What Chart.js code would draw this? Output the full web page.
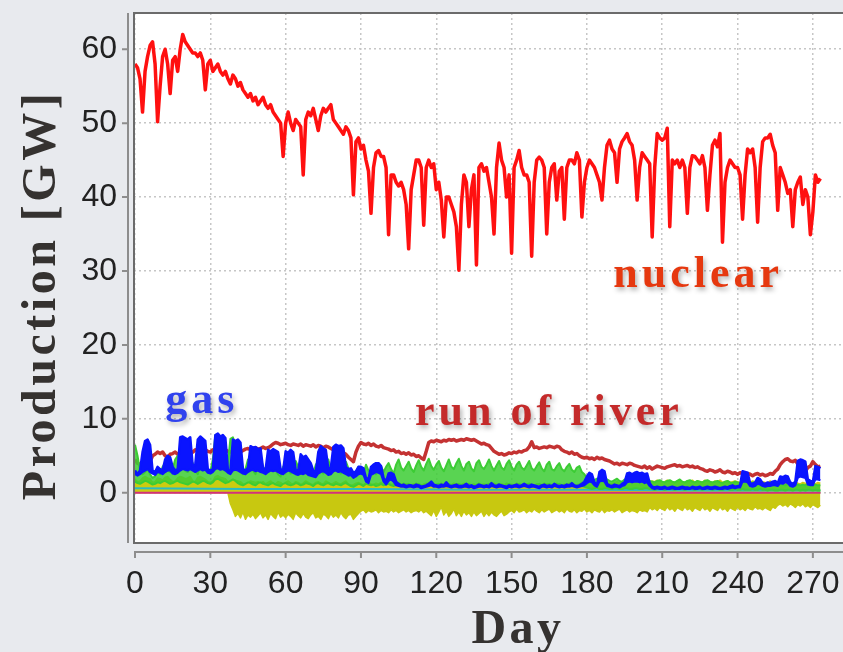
<!DOCTYPE html>
<html>
<head>
<meta charset="utf-8">
<title>Production [GW]</title>
<script src="https://cdn.jsdelivr.net/npm/chart.js@4/dist/chart.umd.min.js"></script>
<style>
  body { margin: 0; background: #e8eaee; }
  canvas { display: block; }
</style>
</head>
<body>
<canvas id="prodChart" width="843" height="652"></canvas>
<script>
// daily production per source [GW], day 0 .. 273
const nuclear = [
  58, 57.5, 56, 51.5, 57, 59, 60.5, 61, 58, 50.2,
  55, 59, 60, 58, 54, 58.5, 59, 57, 60, 62,
  61, 60.5, 60, 59.5, 59.5, 59, 59.5, 58.5, 54.5, 58,
  58.5, 57, 57.5, 58, 57, 56.5, 57, 56, 55.3, 56.5,
  56, 55, 55.5, 54.5, 54, 53.5, 54, 53, 53.5, 52.5,
  53, 53.5, 52.5, 52, 52.5, 51.5, 51, 50.5, 50, 45.5,
  50, 51.5, 50, 49, 50.5, 50, 49.5, 43, 50.5, 51.5,
  51, 52, 50.5, 49, 51, 52, 51.5, 52, 52.5, 50.5,
  50, 49.5, 49, 48.5, 49.5, 49, 48, 40.3, 47.5, 48,
  46.5, 47, 45, 43.5, 37.8, 44, 46, 46.3, 45.5, 45.5,
  44, 34.9, 43, 43, 42, 41.5, 42, 41, 39, 33,
  41, 43, 45, 45, 44, 36.2, 44, 45, 44, 44.5,
  41, 42, 39.6, 34.6, 40, 40, 39, 38, 36, 30.1,
  39, 43, 42, 36, 41, 43, 30.8, 44, 44.5, 43.5,
  44, 42, 40, 35, 44, 47.3, 45, 44, 40, 43,
  32.4, 44, 45, 46.3, 44, 43, 43, 42, 32, 42,
  45, 45.4, 45, 44, 35, 42, 44, 44.5, 39.6, 43.5,
  44, 37, 44, 45, 45, 44.5, 46, 45, 37.3, 42,
  44, 45, 44.5, 44, 43, 42, 39.6, 44, 47, 47.7,
  46.5, 46, 42, 46.5, 47.5, 48, 48.6, 47.5, 47, 45,
  39.6, 44, 46, 45.5, 45, 44.5, 34.6, 44, 48.6, 48,
  47.7, 48, 49.3, 36, 45, 44.5, 45, 44, 45, 44,
  37.8, 44, 45.6, 45.5, 45, 44.5, 45.6, 44, 38.2, 43,
  47, 47.7, 46.8, 48.6, 33.9, 42, 44, 45, 44.5, 44,
  44, 43, 37, 43, 46.5, 46, 46.5, 44, 36.6, 44,
  47.5, 48, 48, 48.5, 47, 46, 38.2, 44, 43, 42,
  40.5, 41, 36, 41, 42, 42.7, 39, 41, 40, 34.9,
  38, 43, 42, 42.5
];

const runOfRiver = [
  4.5, 4, 3.8, 4.2, 3.5, 3.8, 4.2, 5, 5.2, 5.5,
  5.3, 5.5, 5, 4.8, 5.2, 5.3, 5.5, 5.2, 5, 5.3,
  5.5, 5.6, 5.4, 5.5, 5.8, 5.6, 5.5, 5.7, 5.8, 5.6,
  5.5, 5.8, 5.6, 5.5, 5.7, 5.9, 5.8, 5.6, 5.5, 5.7,
  5.8, 5.6, 5.5, 5.7, 5.9, 6, 5.8, 6, 6.1, 5.9,
  6, 6.2, 6, 6.1, 6.3, 6.6, 6.8, 6.7, 6.5, 6.6,
  6.7, 6.5, 6.4, 6.6, 6.5, 6.4, 6.6, 6.3, 6.5, 6.4,
  6.3, 6.5, 6.2, 6.4, 6.3, 6.1, 6.3, 6.2, 6, 5.8,
  5.6, 5.3, 5, 5.4, 5.2, 4.8, 4.5, 4.2, 5.5, 6.3,
  6.8, 6.6, 6.5, 6.7, 6.4, 6.6, 6.3, 6.2, 6.4, 6.1,
  6, 5.9, 5.7, 5.8, 5.5, 5.6, 5.3, 5.4, 5.2, 5.4,
  5.1, 5.2, 4.9, 5, 4.7, 4.5, 5.6, 6.8, 7, 6.9,
  7.1, 7, 6.9, 7.1, 7, 7.2, 7.1, 7.2, 7, 7.1,
  7.2, 7.1, 7.3, 7.2, 7.1, 7.2, 7, 6.8, 6.6, 6.7,
  6.5, 6.4, 6, 5.6, 5.4, 5.2, 5.3, 5.1, 5.2, 5.4,
  5.3, 5.5, 5.4, 5.6, 5.5, 5.7, 5.8, 6.2, 6.9, 6.1,
  6.2, 6, 6.1, 6.2, 6.1, 6.3, 6.2, 6.1, 6.3, 6.2,
  5.8, 5.6, 5.5, 5.3, 5.5, 5.2, 5.3, 5, 4.8, 4.7,
  4.8, 4.6, 4.7, 4.5, 4.8, 4.6, 4.7, 4.5, 4.4, 4.3,
  4.1, 3.9, 4, 3.8, 4, 3.9, 3.8, 4, 3.9, 3.7,
  3.6, 3.5, 3.4, 3.6, 3.3, 3.5, 3.2, 3.4, 3.6, 3.5,
  3.4, 3.3, 3.5, 3.6, 3.7, 3.8, 3.6, 3.7, 3.5, 3.6,
  3.7, 3.5, 3.6, 3.4, 3.5, 3.3, 3.2, 3, 2.9, 3.1,
  3, 2.8, 2.9, 3.1, 2.8, 2.7, 2.9, 2.8, 2.6, 2.7,
  2.5, 2.7, 2.6, 2.4, 2.6, 2.5, 2.3, 2.5, 2.6, 2.4,
  2.5, 2.3, 2.4, 2.6, 2.5, 2.9, 3.2, 3.8, 4.2, 4.5,
  4.6, 4.3, 4.2, 4.4, 3.9, 3.5, 3.2, 2.9, 3.4, 3.6,
  4.2, 3.8, 3.5, 3.6
];

// gas: daily high and low of the hourly curve
const gasHigh = [
  3, 2.5, 3, 5.5, 7, 7.2, 6.5, 3, 2.8, 3.5,
  3.2, 3, 4.5, 5, 4.8, 3.5, 3, 3.2, 7.5, 7.6,
  7.4, 7.2, 7.5, 3.6, 3.8, 7.2, 7.6, 7.3, 7, 3.2,
  3, 3.2, 7.8, 8, 7.6, 7.8, 7.4, 3.1, 2.9, 7.2,
  7, 7.2, 6.8, 3.2, 3, 3.4, 6.3, 6.1, 6.2, 5.9,
  6, 3.3, 3.1, 5.8, 5.6, 5.9, 5.7, 5.5, 3.2, 3,
  5.6, 5.4, 5.8, 5.5, 3.1, 2.9, 5.2, 4.8, 5, 4.5,
  4, 3, 2.8, 5.5, 6.3, 6, 5.8, 3.2, 3.4, 6.2,
  6.5, 6.3, 6.4, 6, 3.5, 3.2, 3.3, 2.7, 2.9, 3.5,
  3.5, 3.3, 2, 1.8, 3.5, 3.8, 4, 4, 3.6, 2,
  1.5, 2.6, 2.7, 2.5, 1.5, 1.2, 1, 1.1, 0.9, 1,
  1, 0.9, 1.1, 1, 0.8, 0.9, 1, 1.2, 1.5, 1.1,
  1, 0.9, 1.1, 1, 1.4, 1, 0.9, 1, 1.1, 0.9,
  0.9, 1, 1.2, 0.9, 1, 0.8, 0.9, 1.1, 1, 0.9,
  1, 0.9, 1.3, 1, 0.9, 1.1, 1, 0.9, 0.8, 1,
  0.9, 1, 1.1, 0.9, 1, 1.2, 1, 0.9, 1.1, 1,
  0.9, 0.8, 1, 1.1, 0.9, 1, 0.9, 1.2, 1, 0.9,
  1, 0.9, 1.1, 1, 1.3, 1, 0.9, 1, 1.2, 1.5,
  2.2, 2.7, 2.5, 1.4, 1, 2.8, 3.1, 2.9, 1.2, 1,
  0.9, 1.1, 1, 0.9, 1.2, 1.4, 2.6, 2.7, 2.5, 2.7,
  2.8, 2.6, 2.7, 2.5, 2.6, 1.3, 0.8, 0.7, 0.8, 0.7,
  0.7, 0.8, 0.6, 0.7, 0.8, 0.7, 0.6, 0.7, 0.8, 0.7,
  0.7, 0.6, 0.8, 0.7, 0.7, 0.8, 0.6, 0.7, 0.8, 0.7,
  0.7, 0.8, 0.7, 0.6, 0.7, 0.8, 0.7, 0.9, 1, 0.8,
  0.9, 1, 2.9, 2.8, 2.7, 1.3, 1.2, 1.4, 2, 1.8,
  1.3, 1.2, 1.4, 1.3, 1.5, 1.6, 1.3, 2.2, 2.1, 2.3,
  2.2, 1.4, 1.2, 1.5, 4.3, 4.5, 4.4, 4.2, 1.8, 1.6,
  1.5, 3.6, 3.5, 3.3
];

const gasLow = [
  2.5, 2.3, 2.5, 2.8, 3, 3.2, 2.8, 2.6, 2.4, 2.8,
  2.7, 2.5, 2.8, 3, 3, 2.6, 2.5, 2.7, 3, 3.2,
  3.1, 3, 3.2, 3, 2.8, 3, 3.2, 3, 3.1, 2.7,
  2.6, 2.8, 3.2, 3.3, 3.1, 3.2, 3, 2.7, 2.5, 3,
  3.1, 3, 2.8, 2.6, 2.5, 2.8, 3, 3.1, 2.9, 3,
  2.8, 2.7, 2.5, 2.8, 3, 2.9, 3, 2.8, 2.6, 2.5,
  2.8, 3, 2.9, 2.7, 2.5, 2.4, 2.6, 2.5, 2.7, 2.4,
  2.3, 2.2, 2.1, 2.6, 2.8, 2.9, 2.7, 2.4, 2.5, 2.9,
  3, 2.8, 2.9, 2.7, 2.5, 2.3, 2.4, 2, 2.2, 2.5,
  2.6, 2.4, 1.5, 1.3, 2.4, 2.6, 2.8, 2.7, 2.5, 1.5,
  1.1, 1.6, 1.8, 1.5, 1, 0.9, 0.8, 0.8, 0.7, 0.8,
  0.8, 0.7, 0.8, 0.8, 0.6, 0.7, 0.8, 0.9, 1, 0.8,
  0.8, 0.7, 0.8, 0.8, 0.9, 0.8, 0.7, 0.8, 0.8, 0.7,
  0.7, 0.8, 0.8, 0.7, 0.8, 0.6, 0.7, 0.8, 0.8, 0.7,
  0.8, 0.7, 0.9, 0.8, 0.7, 0.8, 0.8, 0.7, 0.6, 0.8,
  0.7, 0.8, 0.8, 0.7, 0.8, 0.9, 0.8, 0.7, 0.8, 0.8,
  0.7, 0.6, 0.8, 0.8, 0.7, 0.8, 0.7, 0.9, 0.8, 0.7,
  0.8, 0.7, 0.8, 0.8, 0.9, 0.8, 0.7, 0.8, 0.9, 1,
  1.3, 1.5, 1.4, 1, 0.8, 1.5, 1.6, 1.5, 0.9, 0.8,
  0.7, 0.8, 0.8, 0.7, 0.9, 1, 1.4, 1.5, 1.4, 1.5,
  1.5, 1.4, 1.5, 1.3, 1.4, 0.9, 0.6, 0.5, 0.6, 0.5,
  0.5, 0.6, 0.5, 0.5, 0.6, 0.5, 0.5, 0.5, 0.6, 0.5,
  0.5, 0.5, 0.6, 0.5, 0.5, 0.6, 0.5, 0.5, 0.6, 0.5,
  0.5, 0.6, 0.5, 0.5, 0.5, 0.6, 0.5, 0.6, 0.7, 0.6,
  0.7, 0.7, 1.5, 1.5, 1.4, 0.9, 0.8, 0.9, 1.2, 1.1,
  0.9, 0.8, 0.9, 0.9, 1, 1, 0.9, 1.3, 1.2, 1.4,
  1.3, 0.9, 0.8, 1, 2, 2.2, 2.1, 2, 1.1, 1,
  1, 1.8, 1.8, 1.7
];

// green source: daily high and low
const greenHigh = [
  6.5, 5, 3, 2.5, 2.8, 3.2, 2.5, 2, 2.2, 3,
  2.5, 3.5, 4, 3, 2.8, 3.2, 4.5, 5, 4, 3.5,
  3, 2.8, 3.5, 4, 3, 2.5, 3.8, 4.5, 3.5, 3.2,
  2.8, 4.5, 7.8, 7.5, 6.8, 5, 3.5, 4, 7.3, 7.5,
  6.5, 4, 3, 2.5, 3.2, 4.5, 3.8, 3, 2.5, 4,
  4.8, 3.5, 3, 2.8, 3.5, 4.2, 3, 2.5, 2.2, 3.5,
  4, 3.2, 2.6, 3, 4.3, 3.5, 2.8, 3.3, 4, 3.6,
  3.1, 2.5, 3.8, 4.2, 3, 2.6, 3.5, 4.5, 3.2, 2.8,
  3.4, 3, 2.6, 3.8, 4.2, 3.3, 2.4, 2, 2.8, 3.5,
  3.2, 2.5, 3.8, 3, 2.7, 3.3, 2.5, 3, 3.6, 2.8,
  3.5, 4, 3.2, 2.6, 3.8, 4.5, 3.4, 3, 3.6, 4.2,
  3.3, 2.8, 3.7, 4.4, 3.5, 3, 3.9, 4.6, 3.6, 3.1,
  3.8, 4.3, 3.4, 2.9, 3.7, 4.5, 3.5, 3.2, 4, 4.6,
  3.6, 3, 3.9, 4.2, 3.3, 2.9, 4, 4.4, 3.5, 3.2,
  3.8, 4.5, 3.6, 3, 3.7, 4.3, 3.4, 3.1, 3.9, 4.4,
  3.5, 3, 3.8, 4.2, 3.4, 3.1, 3.7, 4.3, 3.3, 3,
  3.6, 4.1, 3.3, 2.9, 3.8, 4.2, 3.2, 3, 3.6, 4,
  3.2, 2.9, 3.5, 3.9, 3.1, 2.8, 3.4, 3.6, 2.8, 2.5,
  2, 1.8, 1.6, 1.7, 1.9, 1.6, 1.5, 1.7, 1.8, 1.6,
  1.5, 1.7, 1.9, 1.6, 1.5, 1.8, 1.7, 1.6, 1.5, 1.7,
  1.8, 1.6, 1.5, 1.7, 1.8, 1.6, 1.5, 1.4, 1.6, 1.7,
  1.5, 1.4, 1.6, 1.7, 1.5, 1.4, 1.6, 1.8, 1.5, 1.4,
  1.6, 1.7, 1.5, 1.4, 1.6, 1.5, 1.4, 1.6, 1.7, 1.5,
  1.4, 1.5, 1.6, 1.4, 1.3, 1.5, 1.6, 1.4, 1.3, 1.5,
  1.4, 1.3, 1.5, 1.4, 1.3, 1.2, 1.4, 1.3, 1.2, 1.4,
  1.3, 1.2, 1.1, 1.3, 1.2, 1.1, 1, 1.2, 1.1, 1,
  1.2, 1.1, 1, 1.2, 1.1, 1, 1.1, 1, 1.2, 1.1,
  1, 1.1, 1, 1
];

const greenLow = [
  1.5, 1.3, 1.2, 1.4, 1.6, 1.5, 1.3, 1.1, 1.2, 1.4,
  1.3, 1.5, 1.6, 1.4, 1.2, 1.3, 1.5, 1.6, 1.4, 1.3,
  1.2, 1.1, 1.3, 1.5, 1.4, 1.2, 1.4, 1.6, 1.5, 1.3,
  1.2, 1.4, 1.8, 1.9, 1.7, 1.5, 1.3, 1.4, 1.6, 1.8,
  1.6, 1.3, 1.1, 1, 1.2, 1.4, 1.3, 1.1, 1, 1.3,
  1.4, 1.2, 1.1, 1, 1.2, 1.3, 1.1, 1, 0.9, 1.2,
  1.3, 1.1, 1, 1.1, 1.3, 1.2, 1, 1.1, 1.3, 1.2,
  1.1, 0.9, 1.2, 1.3, 1.1, 1, 1.2, 1.3, 1.1, 1,
  1.2, 1.1, 1, 1.2, 1.3, 1.1, 0.9, 0.8, 1, 1.2,
  1.1, 0.9, 1.2, 1.1, 1, 1.1, 0.9, 1, 1.2, 1,
  1.1, 1.2, 1, 0.9, 1.1, 1.3, 1.1, 1, 1.1, 1.2,
  1, 0.9, 1.1, 1.2, 1, 0.9, 1.1, 1.3, 1.1, 1,
  1.1, 1.2, 1, 0.9, 1.1, 1.2, 1, 0.9, 1.1, 1.2,
  1, 0.9, 1.1, 1.2, 1, 0.9, 1.1, 1.2, 1, 0.9,
  1.1, 1.2, 1, 0.9, 1.1, 1.2, 1, 0.9, 1.1, 1.2,
  1, 0.9, 1.1, 1.2, 1, 0.9, 1.1, 1.2, 1, 0.9,
  1.1, 1.2, 1, 0.9, 1.1, 1.2, 1, 0.9, 1.1, 1.2,
  1, 0.9, 1.1, 1.1, 1, 0.9, 1, 1, 0.9, 0.8,
  0.7, 0.6, 0.5, 0.6, 0.7, 0.5, 0.5, 0.6, 0.6, 0.5,
  0.5, 0.6, 0.6, 0.5, 0.5, 0.6, 0.6, 0.5, 0.5, 0.6,
  0.6, 0.5, 0.5, 0.6, 0.6, 0.5, 0.5, 0.4, 0.5, 0.6,
  0.5, 0.4, 0.5, 0.6, 0.5, 0.4, 0.5, 0.6, 0.5, 0.4,
  0.5, 0.6, 0.5, 0.4, 0.5, 0.5, 0.4, 0.5, 0.6, 0.5,
  0.4, 0.5, 0.5, 0.4, 0.4, 0.5, 0.5, 0.4, 0.4, 0.5,
  0.4, 0.4, 0.5, 0.4, 0.4, 0.4, 0.5, 0.4, 0.4, 0.5,
  0.4, 0.4, 0.3, 0.4, 0.4, 0.3, 0.3, 0.4, 0.4, 0.3,
  0.4, 0.4, 0.3, 0.4, 0.4, 0.3, 0.4, 0.3, 0.4, 0.4,
  0.3, 0.4, 0.3, 0.3
];

// pumped storage: generation (+) and pumping (-)
const storageGen = [
  1.8, 1.5, 1.6, 2, 2.2, 2, 1.9, 1.4, 1.5, 2,
  1.9, 1.7, 2.1, 2.2, 1.8, 1.5, 1.6, 2, 2.2, 2.1,
  1.9, 2, 2.2, 1.6, 1.5, 2.1, 2.2, 2, 1.8, 1.5,
  1.4, 1.6, 2.2, 2.3, 2.1, 2, 1.9, 1.5, 1.3, 1.8,
  1.7, 1.6, 1.5, 1.2, 1.1, 1.3, 1.6, 1.5, 1.4, 1.5,
  1.3, 1.5, 1.2, 1.4, 1.6, 1.3, 1.2, 1.5, 1.4, 1.1,
  1.4, 1.6, 1.3, 1.2, 1.5, 1.4, 1.1, 1.3, 1.6, 1.4,
  1.2, 1.1, 1.4, 1.5, 1.3, 1.2, 1.6, 1.4, 1.2, 1.3,
  1.5, 1.3, 1.2, 1.4, 1.6, 1.2, 1, 1.1, 1.3, 1.4,
  1.2, 1.1, 1.3, 1.4, 1.2, 1.1, 1.3, 1.2, 1.4, 1.1,
  1.2, 1.3, 1.1, 1.2, 1.4, 1.2, 1.1, 1.3, 1.2, 1,
  1.1, 1.2, 1.3, 1.1, 1, 1.2, 1.3, 1.1, 1.2, 1.1,
  1, 1.2, 1.3, 1.1, 1.2, 1, 1.1, 1.3, 1.2, 1,
  1.1, 1.3, 1.2, 1, 1.1, 1.2, 1, 1.3, 1.1, 1.2,
  1.1, 1, 1.2, 1.3, 1.1, 1, 1.2, 1.1, 1.3, 1.2,
  1, 1.1, 1.3, 1.2, 1, 1.1, 1.2, 1.3, 1.1, 1,
  1.2, 1.1, 1, 1.3, 1.2, 1.1, 1, 1.2, 1.3, 1.1,
  1, 1.2, 1.1, 1.3, 1.2, 1, 1.1, 1.2, 1.4, 1.3,
  1.4, 1.6, 1.5, 1.3, 1.2, 1.5, 1.7, 1.6, 1.4, 1.3,
  1.2, 1.4, 1.5, 1.3, 1.4, 1.6, 1.7, 1.5, 1.6, 1.4,
  1.5, 1.6, 1.4, 1.3, 1.5, 1.4, 1.6, 1.5, 1.7, 1.6,
  1.4, 1.5, 1.7, 1.6, 1.5, 1.4, 1.6, 1.7, 1.5, 1.4,
  1.6, 1.5, 1.7, 1.4, 1.6, 1.5, 1.4, 1.7, 1.6, 1.5,
  1.4, 1.6, 1.5, 1.7, 1.4, 1.5, 1.6, 1.4, 1.5, 1.6,
  1.5, 1.4, 1.6, 1.5, 1.3, 1.4, 1.6, 1.5, 1.4, 1.3,
  1.5, 1.4, 1.3, 1.6, 1.4, 1.2, 1.3, 1.5, 1.4, 1.2,
  1.3, 1.4, 1.2, 1.5, 1.3, 1.2, 1.4, 1.3, 1.2, 1.4,
  1.3, 1.2, 1.4, 1.3
];

const storagePump = [
  0, 0, 0, 0, 0, 0, 0, 0, 0, 0,
  0, 0, 0, 0, 0, 0, 0, 0, 0, 0,
  0, 0, 0, 0, 0, 0, 0, 0, 0, 0,
  0, 0, 0, 0, 0, 0, 0, 0, -1.5, -2.3,
  -3.2, -2.8, -3.4, -2.6, -3.6, -3, -3.3, -2.9, -3.5, -3.1,
  -2.7, -3.4, -3, -3.6, -2.8, -3.2, -3.5, -2.6, -3.3, -3,
  -3.4, -2.9, -3.2, -3.6, -2.7, -3.1, -3.4, -2.8, -3.3, -3.5,
  -3, -2.7, -3.4, -3.2, -3.6, -2.9, -3.1, -3.5, -2.8, -3.3,
  -3, -3.4, -2.7, -3.2, -3.5, -3, -2.9, -3.6, -3.2, -2.8,
  -2.5, -2.3, -2.7, -2.4, -2.6, -2.5, -2.3, -2.7, -2.4, -2.6,
  -2.5, -2.7, -2.3, -2.6, -2.4, -2.7, -2.5, -2.3, -2.6, -2.4,
  -2.7, -2.5, -2.4, -2.6, -2.3, -2.7, -2.5, -2.8, -3.1, -2.4,
  -3.2, -2.6, -1.9, -3, -2.5, -3.2, -2.8, -2.2, -3.1, -2.6,
  -3.2, -2.5, -3, -2.7, -3.2, -2.6, -3.1, -2.8, -2.5, -3.2,
  -2.7, -3.1, -2.6, -3, -3.2, -2.8, -2.5, -3.1, -2.9, -2.6,
  -2.4, -2.7, -2.2, -2.6, -2.5, -2.3, -2.7, -2.4, -2.6, -2.2,
  -2.5, -2.7, -2.3, -2.6, -2.4, -2.2, -2.7, -2.5, -2.3, -2.6,
  -2.4, -2.7, -2.2, -2.5, -2.6, -2.3, -2.7, -2.4, -2.5, -2.2,
  -2.6, -2.4, -2.7, -2.3, -2.5, -2.6, -2.2, -2.7, -2.4, -2.5,
  -2.3, -2.6, -2.4, -2.2, -2.7, -2.5, -2.3, -2.6, -2.4, -2.5,
  -2.7, -2.3, -2.5, -2.4, -2.6, -2, -2.3, -2.1, -2.4, -2,
  -2.2, -2.4, -1.9, -2.3, -2.1, -2.5, -2, -2.2, -2.4, -1.9,
  -2.3, -2.1, -2.5, -2, -2.2, -2.4, -1.9, -2.3, -2.1, -2.5,
  -2, -2.2, -2.4, -1.9, -2.3, -2.1, -2.5, -2, -2.2, -2.4,
  -1.9, -2.3, -2.1, -2.4, -2, -2.2, -2.3, -1.9, -2.2, -2.1,
  -2.3, -2, -2.2, -2.4, -1.9, -2.1, -1.7, -1.5, -1.8, -1.6,
  -1.9, -1.5, -1.7, -2, -1.6, -1.8, -1.5, -1.9, -1.7, -2,
  -1.6, -1.8, -2, -1.7
];

// thin lines close to zero, only a few points
const cyanDays = [0, 45, 90, 135, 180, 225, 273];
const cyanValues = [0.6, 0.5, 0.5, 0.4, 0.4, 0.3, 0.3];
const pinkDays = [0, 273];
const pinkValues = [0, 0];

const days = nuclear.map((v, i) => i);
const xTicks = [0, 30, 60, 90, 120, 150, 180, 210, 240, 270];

function toPoints(xs, ys) {
  return ys.map((v, i) => ({ x: xs[i], y: v }));
}

// text drawn on the plot
const labels = [
  { text: "nuclear", day: 190.5, gw: 27.8, color: "#e6380f" },
  { text: "gas", day: 12, gw: 10.8, color: "#3042ee" },
  { text: "run of river", day: 111.5, gw: 9.2, color: "#c42a2a" }
];

const serif = "'Liberation Serif', 'Times New Roman', serif";

// background, frame, axis lines and titles
const framePlugin = {
  id: "framePlugin",
  beforeDraw(chart) {
    const { ctx, chartArea: a } = chart;
    ctx.save();
    ctx.fillStyle = "#e8eaee";
    ctx.fillRect(0, 0, chart.width, chart.height);
    ctx.fillStyle = "#ffffff";
    ctx.fillRect(a.left, a.top, a.right - a.left, a.bottom - a.top);
    ctx.restore();
  },
  afterDraw(chart) {
    const { ctx, chartArea: a, scales } = chart;
    const axisX = a.left - 6;
    const axisY = a.bottom + 9;
    ctx.save();

    // outer axis lines with tick marks
    ctx.strokeStyle = "#8d8d8d";
    ctx.lineWidth = 2;
    ctx.beginPath();
    ctx.moveTo(axisX, a.top);
    ctx.lineTo(axisX, a.bottom);
    ctx.moveTo(a.left, axisY);
    ctx.lineTo(a.right, axisY);
    scales.y.ticks.forEach((t) => {
      const y = scales.y.getPixelForValue(t.value);
      ctx.moveTo(axisX - 6, y);
      ctx.lineTo(axisX, y);
    });
    scales.x.ticks.forEach((t) => {
      const x = scales.x.getPixelForValue(t.value);
      ctx.moveTo(x, axisY);
      ctx.lineTo(x, axisY + 6);
    });
    ctx.stroke();

    // plot frame
    ctx.strokeStyle = "#6b6b6b";
    ctx.lineWidth = 2;
    ctx.strokeRect(a.left, a.top, a.right - a.left + 4, a.bottom - a.top);

    // axis titles
    ctx.fillStyle = "#353230";
    ctx.font = "bold 48px " + serif;
    ctx.letterSpacing = "3.5px";
    ctx.textAlign = "center";
    ctx.textBaseline = "alphabetic";
    ctx.fillText("Day", 518, 643);
    ctx.save();
    ctx.translate(55, 295);
    ctx.rotate(-Math.PI / 2);
    ctx.fillText("Production [GW]", 0, 0);
    ctx.restore();

    // series labels
    ctx.font = "bold 44px " + serif;
    ctx.letterSpacing = "4px";
    ctx.textAlign = "left";
    ctx.shadowColor = "rgba(0, 0, 0, 0.3)";
    ctx.shadowBlur = 5;
    ctx.shadowOffsetX = 2;
    ctx.shadowOffsetY = 3;
    labels.forEach((l) => {
      ctx.fillStyle = l.color;
      ctx.fillText(l.text, scales.x.getPixelForValue(l.day), scales.y.getPixelForValue(l.gw));
    });
    ctx.restore();
  }
};

const lineStyle = {
  pointRadius: 0,
  borderWidth: 2.5,
  tension: 0,
  borderJoinStyle: "round"
};

const data = {
  datasets: [
    { ...lineStyle, label: "nuclear", data: toPoints(days, nuclear), borderColor: "#ff1010", borderWidth: 3.5, fill: false, order: 1 },
    { ...lineStyle, label: "gas low", data: toPoints(days, gasLow), borderColor: "#0a14ff", borderWidth: 2, fill: false, order: 2 },
    { ...lineStyle, label: "gas", data: toPoints(days, gasHigh), borderColor: "#0a14ff", backgroundColor: "#0a14ff", fill: 1, order: 2 },
    { ...lineStyle, label: "green low", data: toPoints(days, greenLow), borderColor: "#3ccc34", borderWidth: 2, fill: false, order: 3 },
    { ...lineStyle, label: "green", data: toPoints(days, greenHigh), borderColor: "#3ccc34", backgroundColor: "rgba(60, 204, 52, 0.85)", borderWidth: 2, fill: 3, order: 3 },
    { ...lineStyle, label: "run of river", data: toPoints(days, runOfRiver), borderColor: "#c43232", borderWidth: 3.5, fill: false, order: 4 },
    { ...lineStyle, label: "cyan", data: toPoints(cyanDays, cyanValues), borderColor: "#28bcc4", borderWidth: 2, fill: false, order: 5 },
    { ...lineStyle, label: "pink", data: toPoints(pinkDays, pinkValues), borderColor: "#d2307c", borderWidth: 2, fill: false, order: 5 },
    { ...lineStyle, label: "storage gen", data: toPoints(days, storageGen), borderColor: "#cccc10", backgroundColor: "#cccc10", borderWidth: 1.5, fill: "origin", order: 6 },
    { ...lineStyle, label: "storage pump", data: toPoints(days, storagePump), borderColor: "#c8c810", backgroundColor: "#c8c810", borderWidth: 1.5, fill: "origin", order: 6 }
  ]
};

const tickFont = { family: "'Liberation Sans', Arial, sans-serif", size: 32 };
const gridStyle = { color: "#c6c6c6", lineWidth: 1.5, drawTicks: false };

const config = {
  type: "line",
  data: data,
  options: {
    responsive: false,
    devicePixelRatio: 1,
    animation: false,
    layout: { padding: { top: 13, right: 0, left: 0, bottom: 0 } },
    plugins: { legend: { display: false }, tooltip: { enabled: false } },
    scales: {
      x: {
        type: "linear",
        min: -0.4,
        max: 282,
        afterFit: (scale) => {
          scale.height = 109;
          scale.paddingLeft = 0;
          scale.paddingRight = 0;
        },
        afterBuildTicks: (scale) => { scale.ticks = xTicks.map((v) => ({ value: v })); },
        grid: gridStyle,
        border: { display: false, dash: [2, 3] },
        ticks: { font: tickFont, color: "#222", padding: 22, maxRotation: 0, autoSkip: false }
      },
      y: {
        type: "linear",
        min: -6.8,
        max: 64.9,
        afterFit: (scale) => {
          scale.width = 134;
          scale.paddingTop = 0;
          scale.paddingBottom = 0;
        },
        grid: gridStyle,
        border: { display: false, dash: [2, 3] },
        ticks: { stepSize: 10, includeBounds: false, font: tickFont, color: "#222", padding: 17 }
      }
    }
  },
  plugins: [framePlugin]
};

const productionChart = new Chart(document.getElementById("prodChart"), config);
</script>
</body>
</html>
